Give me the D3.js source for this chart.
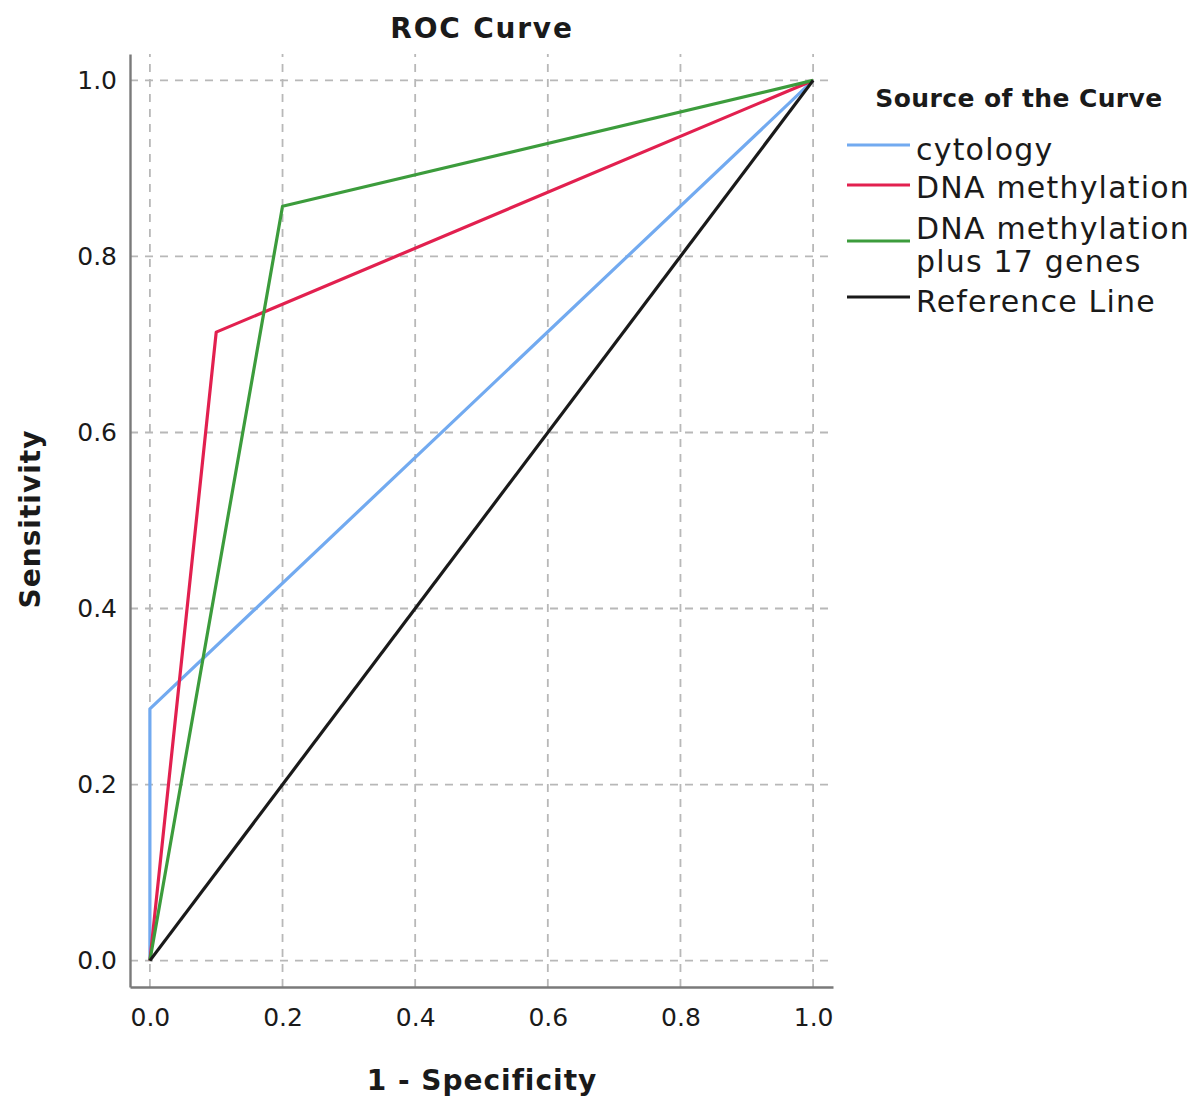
<!DOCTYPE html>
<html>
<head>
<meta charset="utf-8">
<script src="https://cdn.jsdelivr.net/npm/d3@7"></script>
<style>
  body { margin: 0; background: #fff; }
  svg text { font-family: "DejaVu Sans", sans-serif; fill: #1a1a1a; }
  .grid line { stroke: #b8b8b8; stroke-width: 1.8; stroke-dasharray: 8 7; }
  .axis path { stroke: #7a7a7a; stroke-width: 2.4; }
  .axis line { display: none; }
</style>
</head>
<body>
<div id="chart"></div>
<script>
// tick values shared by both axes
const ticks = [0, 0.2, 0.4, 0.6, 0.8, 1.0];

// ROC curves (1 - specificity, sensitivity)
const seriesNames = ['cytology', 'DNA methylation', 'DNA methylation plus 17 genes', 'Reference Line'];
const cytology = [[0, 0], [0, 0.286], [1, 1]];
const dnaMethylation = [[0, 0], [0.1, 0.714], [1, 1]];
const dnaPlusGenes = [[0, 0], [0.2, 0.857], [1, 1]];
const referenceLine = [[0, 0], [1, 1]];

const colors = ['#72aaf0', '#e2204f', '#3c9c3c', '#1a1a1a'];
const curves = [cytology, dnaMethylation, dnaPlusGenes, referenceLine];

const width = 1203;
const height = 1098;

const svg = d3.select('#chart')
  .append('svg')
  .attr('width', width)
  .attr('height', height);

// 3% padding around the unit square, like the SPSS frame
const xScale = d3.scaleLinear().domain([-0.03, 1.03]).range([130, 833]);
const yScale = d3.scaleLinear().domain([-0.03, 1.03]).range([987, 54]);

// gridlines
const grid = svg.append('g').attr('class', 'grid');
grid.selectAll('.gx')
  .data(ticks)
  .join('line')
  .attr('x1', d => xScale(d)).attr('x2', d => xScale(d))
  .attr('y1', yScale.range()[0]).attr('y2', yScale.range()[1]);
grid.selectAll('.gy')
  .data(ticks)
  .join('line')
  .attr('class', 'gy')
  .attr('y1', d => yScale(d)).attr('y2', d => yScale(d))
  .attr('x1', xScale.range()[0]).attr('x2', xScale.range()[1]);

// axes
const xAxis = svg.append('g')
  .attr('class', 'axis')
  .attr('transform', `translate(0, ${yScale.range()[0]})`)
  .call(d3.axisBottom(xScale).tickValues(ticks).tickFormat(d3.format('.1f')).tickSizeOuter(0).tickSize(0).tickPadding(21));
xAxis.selectAll('text').attr('font-size', 25).attr('dy', '0.71em');

const yAxis = svg.append('g')
  .attr('class', 'axis')
  .attr('transform', `translate(${xScale.range()[0]}, 0)`)
  .call(d3.axisLeft(yScale).tickValues(ticks).tickFormat(d3.format('.1f')).tickSizeOuter(0).tickSize(0).tickPadding(13));
yAxis.selectAll('text').attr('font-size', 25);
svg.selectAll('.axis .domain').attr('fill', 'none');

// curves
const line = d3.line().x(d => xScale(d[0])).y(d => yScale(d[1]));
svg.append('g')
  .selectAll('path')
  .data(curves)
  .join('path')
  .attr('d', line)
  .attr('fill', 'none')
  .attr('stroke', (d, i) => colors[i])
  .attr('stroke-width', 3.2)
  .attr('stroke-linejoin', 'round');

// titles
svg.append('text')
  .attr('x', 482).attr('y', 38)
  .attr('text-anchor', 'middle')
  .attr('font-size', 28).attr('font-weight', 'bold')
  .attr('letter-spacing', 1.8)
  .text('ROC Curve');

svg.append('text')
  .attr('x', 482).attr('y', 1090)
  .attr('text-anchor', 'middle')
  .attr('font-size', 28).attr('font-weight', 'bold')
  .attr('letter-spacing', 1)
  .text('1 - Specificity');

svg.append('text')
  .attr('transform', 'translate(40, 519) rotate(-90)')
  .attr('text-anchor', 'middle')
  .attr('font-size', 28).attr('font-weight', 'bold')
  .attr('letter-spacing', 1)
  .text('Sensitivity');

// legend
const legend = svg.append('g');
legend.append('text')
  .attr('x', 1019).attr('y', 107)
  .attr('text-anchor', 'middle')
  .attr('font-size', 25).attr('font-weight', 'bold')
  .attr('letter-spacing', 0.4)
  .text('Source of the Curve');

const legendRows = [
  { lineY: 145, lines: ['cytology'], baseY: 160 },
  { lineY: 185, lines: ['DNA methylation'], baseY: 198 },
  { lineY: 241, lines: ['DNA methylation', 'plus 17 genes'], baseY: 239 },
  { lineY: 297, lines: ['Reference Line'], baseY: 312 }
];

legendRows.forEach((row, i) => {
  legend.append('line')
    .attr('x1', 847).attr('x2', 910)
    .attr('y1', row.lineY).attr('y2', row.lineY)
    .attr('stroke', colors[i])
    .attr('stroke-width', 3.2);
  const t = legend.append('text')
    .attr('x', 916).attr('y', row.baseY)
    .attr('font-size', 30)
    .attr('letter-spacing', 1.2);
  row.lines.forEach((s, j) => {
    t.append('tspan').attr('x', 916).attr('dy', j === 0 ? 0 : 33).text(s);
  });
});
</script>
</body>
</html>
